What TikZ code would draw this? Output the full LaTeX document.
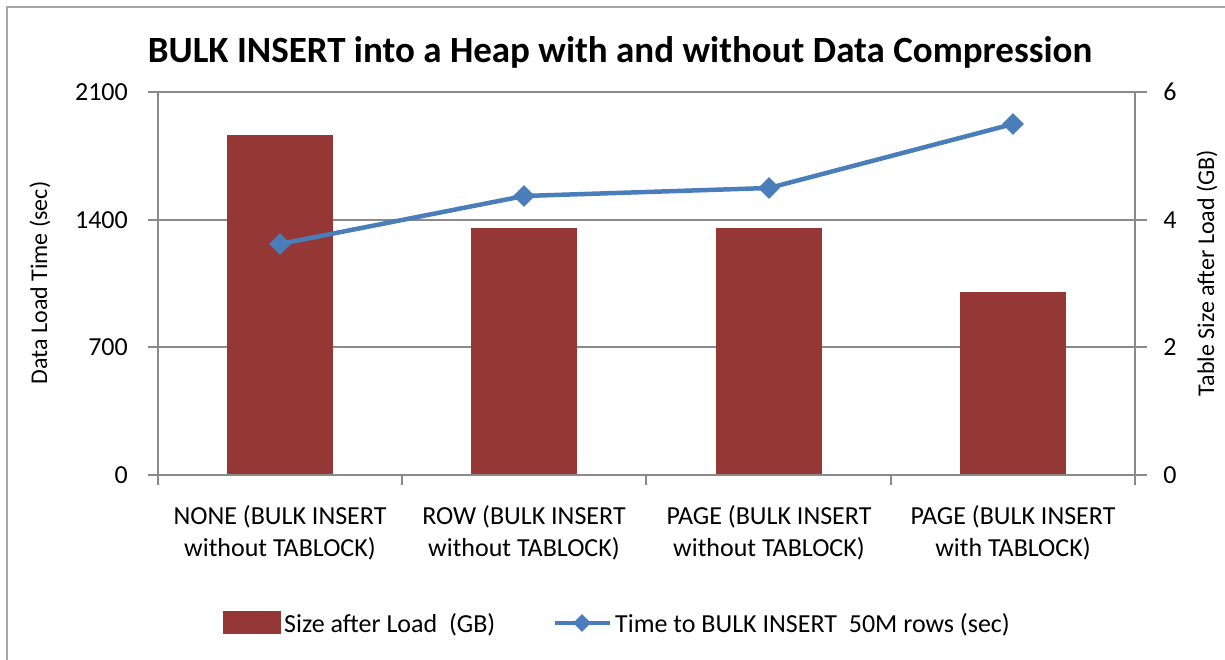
\documentclass[tikz,border=0pt]{standalone}
\usepackage{fontspec}
\setmainfont{Carlito}
\usetikzlibrary{shapes.geometric}
\definecolor{barred}{HTML}{953735}
\definecolor{lineblue}{HTML}{4A7EBB}
\definecolor{axisgrey}{HTML}{8A8A8A}
\definecolor{framegrey}{HTML}{A6A6A6}
\begin{document}
\begin{tikzpicture}[x=1pt,y=-1pt,
  gridline/.style={axisgrey,line width=1.6pt},
  lbl/.style={font=\fontsize{26}{32}\selectfont,inner sep=0pt},
  axtitle/.style={font=\fontsize{24}{29}\selectfont,inner sep=0pt,rotate=90},
  bar/.style={fill=barred},
  series/.style={lineblue,line width=4.5pt},
  dia/.style={diamond,fill=lineblue,inner sep=0pt,minimum size=22pt}]
\useasboundingbox (0,0) rectangle (1225,660);
\clip (0,0) rectangle (1225,660);
\fill[white] (0,0) rectangle (1225,660);
\draw[framegrey,line width=2.5pt] (7,700) -- (7,7) -- (1300,7);

% title
\node[font=\fontsize{37}{44}\selectfont\bfseries,inner sep=0pt,anchor=base] (title) at (620,63)
  {BULK INSERT into a Heap with and without Data Compression};

% grid and axes
\draw[gridline] (148,92) -- (1147,92);
\draw[gridline] (148,220) -- (1147,220);
\draw[gridline] (148,347) -- (1147,347);
\draw[gridline] (158,92) -- (158,485);
\draw[gridline] (1135,92) -- (1135,485);

% bars
\fill[bar] (227,135) rectangle (333,475);
\fill[bar] (471,228) rectangle (577,475);
\fill[bar] (716,228) rectangle (822,475);
\fill[bar] (960,292) rectangle (1066,475);

\draw[gridline] (148,475) -- (1147,475);
\draw[gridline] (402,475) -- (402,485);
\draw[gridline] (646,475) -- (646,485);
\draw[gridline] (891,475) -- (891,485);

% time series
\coordinate (p1) at (280,244);
\coordinate (p2) at (524,196);
\coordinate (p3) at (769,188);
\coordinate (p4) at (1013,124);
\draw[series,line join=round] (p1) -- (p2) -- (p3) -- (p4);
\node[dia] (m1) at (p1) {};
\node[dia] (m2) at (p2) {};
\node[dia] (m3) at (p3) {};
\node[dia] (m4) at (p4) {};

% left axis
\node[lbl,anchor=east] (l2100) at (128,92) {2100};
\node[lbl,anchor=east] (l1400) at (128,220) {1400};
\node[lbl,anchor=east] (l700) at (128,347) {700};
\node[lbl,anchor=east] (l0) at (128,475) {0};
\node[axtitle] (ltitle) at (40,283) {Data Load Time (sec)};

% right axis
\node[lbl] (r6) at (1170,92) {6};
\node[lbl] (r4) at (1170,220) {4};
\node[lbl] (r2) at (1170,347) {2};
\node[lbl] (r0) at (1170,475) {0};
\node[axtitle] (rtitle) at (1207,273) {Table Size after Load (GB)};

% categories
\node[lbl,align=center] (c1) at (280,533) {NONE (BULK INSERT\\without TABLOCK)};
\node[lbl,align=center] (c2) at (524,533) {ROW (BULK INSERT\\without TABLOCK)};
\node[lbl,align=center] (c3) at (769,533) {PAGE (BULK INSERT\\without TABLOCK)};
\node[lbl,align=center] (c4) at (1013,533) {PAGE (BULK INSERT\\with TABLOCK)};

% legend
\fill[bar] (223,611) rectangle (281,634);
\node[lbl,anchor=base west] (leg1) at (284,632) {Size after Load~ (GB)};
\coordinate (la) at (555,623);
\coordinate (lb) at (610,623);
\draw[series] (la) -- (lb);
\node[dia,minimum size=18pt] (lm) at (582,623) {};
\node[lbl,anchor=base west] (leg2) at (615,632) {Time to BULK INSERT~ 50M rows (sec)};
\end{tikzpicture}
\end{document}
